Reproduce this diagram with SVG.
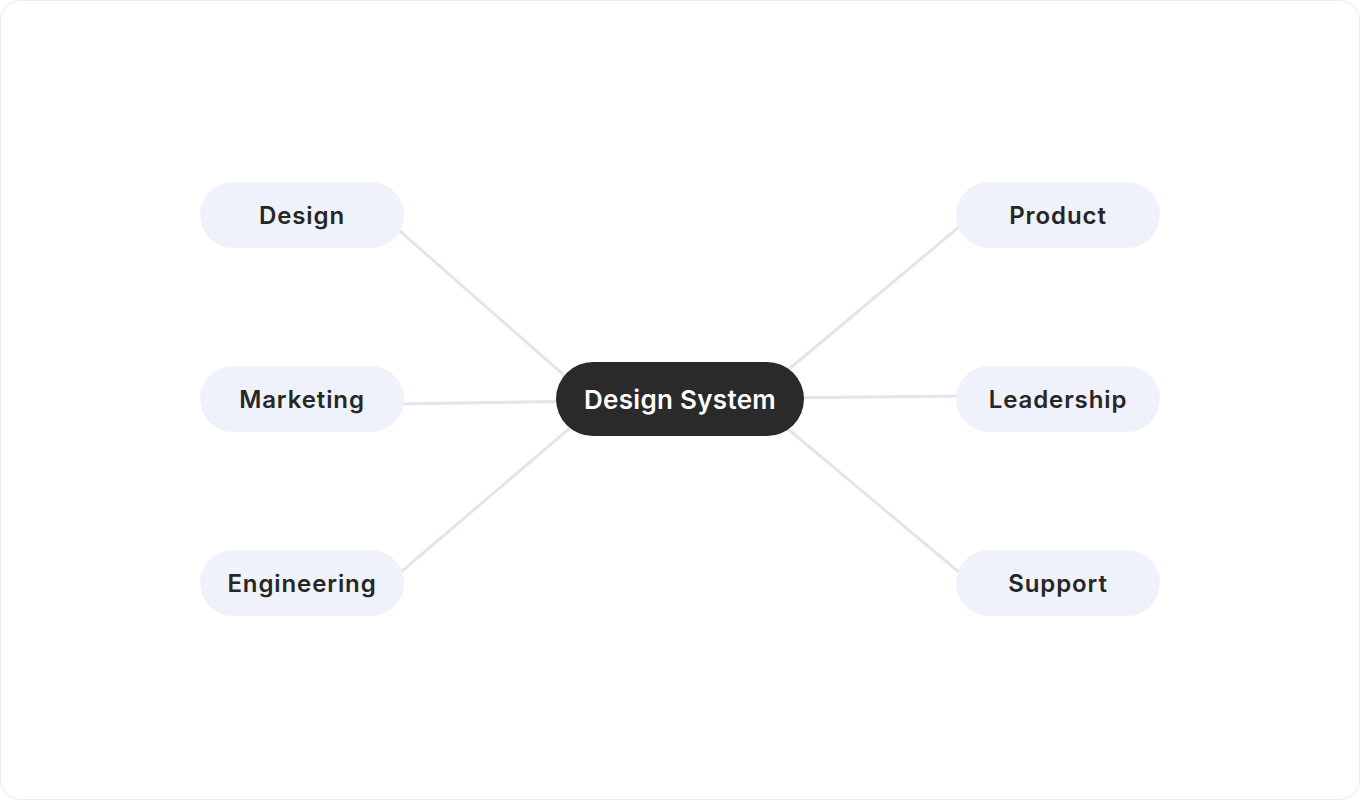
<svg xmlns="http://www.w3.org/2000/svg" width="1360" height="800" viewBox="0 0 1360 800">
  <style>
    .leaf rect { fill: #eff2fa; }
    .leaf text { font-family: Inter, "Noto Sans", "Liberation Sans", sans-serif; font-weight: 600; font-size: 24px; letter-spacing: 0.9px; fill: #262626; text-anchor: middle; dominant-baseline: central; }
    .hub rect { fill: #2a2a2a; }
    .hub text { font-family: Inter, "Noto Sans", "Liberation Sans", sans-serif; font-weight: 600; font-size: 26px; letter-spacing: 0.3px; fill: #ffffff; text-anchor: middle; dominant-baseline: central; }
    .edges line { stroke: #e3e5ee; stroke-width: 3; stroke-linecap: round; }
  </style>
  <rect x="0.5" y="0.5" width="1359" height="799" rx="20" fill="#ffffff" stroke="#ececec" stroke-width="1"/>
  <g class="edges" id="connectors">
    <line x1="385" y1="218" x2="590" y2="398"/>
    <line x1="395" y1="404" x2="590" y2="401"/>
    <line x1="388" y1="583" x2="590" y2="411"/>
    <line x1="972" y1="216" x2="770" y2="385"/>
    <line x1="965" y1="396" x2="770" y2="398"/>
    <line x1="972" y1="583" x2="770" y2="414"/>
  </g>
  <g class="leaf" id="node-design">
    <rect x="200" y="182" width="204" height="66" rx="33"/>
    <text x="302" y="215">Design</text>
  </g>
  <g class="leaf" id="node-marketing">
    <rect x="200" y="366" width="204" height="66" rx="33"/>
    <text x="302" y="399">Marketing</text>
  </g>
  <g class="leaf" id="node-engineering">
    <rect x="200" y="550" width="204" height="66" rx="33"/>
    <text x="302" y="583">Engineering</text>
  </g>
  <g class="leaf" id="node-product">
    <rect x="956" y="182" width="204" height="66" rx="33"/>
    <text x="1058" y="215">Product</text>
  </g>
  <g class="leaf" id="node-leadership">
    <rect x="956" y="366" width="204" height="66" rx="33"/>
    <text x="1058" y="399">Leadership</text>
  </g>
  <g class="leaf" id="node-support">
    <rect x="956" y="550" width="204" height="66" rx="33"/>
    <text x="1058" y="583">Support</text>
  </g>
  <g class="hub" id="node-design-system">
    <rect x="556" y="362" width="248" height="74" rx="37"/>
    <text x="680" y="399">Design System</text>
  </g>
</svg>
